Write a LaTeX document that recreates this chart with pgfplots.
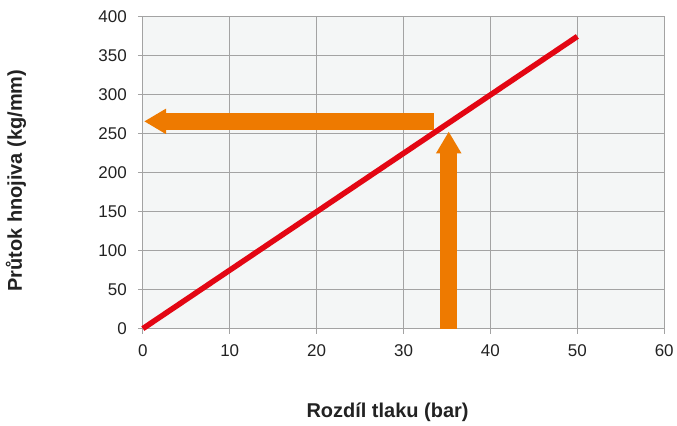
\documentclass[border=0pt]{standalone}
\usepackage{fontspec}
\setmainfont{Liberation Sans}
\usepackage{pgfplots}
\pgfplotsset{compat=1.18}
\usetikzlibrary{arrows.meta}
\definecolor{bgc}{HTML}{F4F6F6}
\definecolor{gridc}{HTML}{A3A3A3}
\definecolor{redl}{HTML}{E30613}
\definecolor{orng}{HTML}{EE7A00}
\definecolor{txt}{HTML}{222222}
\begin{document}
\begin{tikzpicture}
\begin{axis}[
  scale only axis,
  width=522pt, height=312pt,
  xmin=0, xmax=60, ymin=0, ymax=400,
  xtick={0,10,...,60}, ytick={0,50,...,400},
  grid=major,
  major grid style={gridc, line width=1pt},
  axis line style={gridc, line width=1pt},
  tick style={gridc, line width=1pt},
  tick align=outside, tick pos=left,
  major tick length=5pt,
  axis background/.style={fill=bgc},
  /pgf/number format/assume math mode=true,
  ticklabel style={font=\fontsize{17}{19}\selectfont, text=txt},
  yticklabel style={xshift=-7.5pt},
  xticklabel style={yshift=-7.5pt},
  xlabel={Rozdíl tlaku (bar)},
  ylabel={Průtok hnojiva (kg/mm)},
  every axis x label/.style={at={(axis description cs:0.5,0)}, xshift=-16pt, yshift=-84pt, anchor=center, font=\fontsize{20}{22}\selectfont\bfseries, text=txt},
  every axis y label/.style={at={(axis description cs:0,0.5)}, xshift=-127pt, yshift=-8pt, rotate=90, anchor=center, font=\fontsize{20}{22}\selectfont\bfseries, text=txt},
  clip=false,
]
\addplot[redl, line width=5.5pt] coordinates {(0,0) (50,375)};
\addplot[orng, line width=16.5pt, -{Triangle[width=24pt,length=22pt]}] coordinates {(33.5,266) (0.15,266)};
\addplot[orng, line width=17pt, -{Triangle[width=24pt,length=22pt]}] coordinates {(35.2,0) (35.2,253)};
\end{axis}
\path (current axis.south west) ++(-143pt,-94pt) rectangle ++(677pt,423pt);
\end{tikzpicture}
\end{document}
